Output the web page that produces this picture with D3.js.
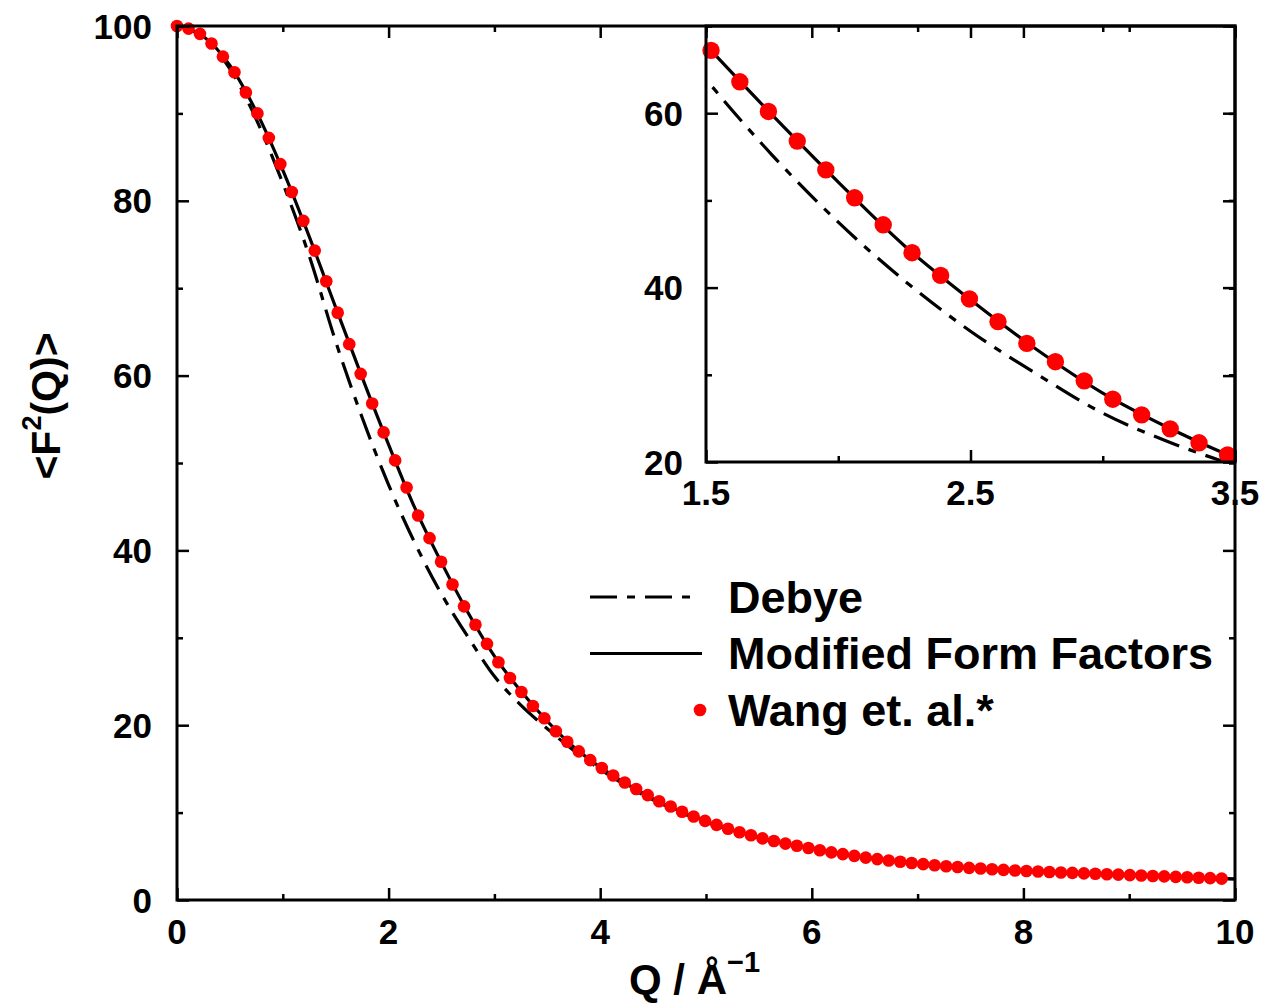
<!DOCTYPE html>
<html>
<head>
<meta charset="utf-8">
<script src="https://cdn.jsdelivr.net/npm/d3@7"></script>
<style>
  body { margin: 0; background: #fff; }
  svg text { font-family: "Liberation Sans", Arial, Helvetica, sans-serif; font-weight: bold; fill: #000; }
</style>
</head>
<body>
<div id="graph"></div>
<script>
// Q grid of the Wang et al. points (1/Angstrom)
var wangQ = [0.000, 0.109, 0.217, 0.326, 0.434, 0.543, 0.651, 0.760, 0.868, 0.977,
             1.085, 1.194, 1.302, 1.411, 1.519, 1.628, 1.736, 1.845, 1.953, 2.062,
             2.170, 2.279, 2.387, 2.496, 2.604, 2.713, 2.821, 2.930, 3.038, 3.147,
             3.255, 3.364, 3.472, 3.581, 3.689, 3.798, 3.906, 4.015, 4.123, 4.232,
             4.340, 4.449, 4.557, 4.666, 4.774, 4.883, 4.991, 5.100, 5.208, 5.317,
             5.425, 5.534, 5.642, 5.751, 5.859, 5.968, 6.076, 6.185, 6.293, 6.402,
             6.510, 6.619, 6.727, 6.836, 6.944, 7.053, 7.161, 7.270, 7.378, 7.487,
             7.595, 7.704, 7.812, 7.921, 8.029, 8.138, 8.246, 8.355, 8.463, 8.572,
             8.680, 8.789, 8.897, 9.006, 9.114, 9.223, 9.331, 9.440, 9.548, 9.657,
             9.765, 9.874];
var wangF2 = [100.0, 99.7, 99.1, 98.0, 96.5, 94.7, 92.4, 90.0, 87.2, 84.2,
              81.0, 77.7, 74.3, 70.8, 67.2, 63.6, 60.2, 56.8, 53.5, 50.3,
              47.2, 44.0, 41.4, 38.7, 36.1, 33.6, 31.5, 29.3, 27.2, 25.4,
              23.8, 22.2, 20.8, 19.3, 18.1, 17.0, 16.0, 15.1, 14.25, 13.45,
              12.7, 12.0, 11.3, 10.7, 10.1, 9.55, 9.05, 8.6, 8.15, 7.75,
              7.4, 7.05, 6.75, 6.45, 6.2, 5.95, 5.7, 5.45, 5.25, 5.05,
              4.85, 4.68, 4.52, 4.37, 4.23, 4.1, 3.98, 3.87, 3.77, 3.68,
              3.6, 3.52, 3.45, 3.38, 3.32, 3.26, 3.2, 3.15, 3.1, 3.05,
              3.0, 2.95, 2.9, 2.85, 2.8, 2.75, 2.7, 2.65, 2.6, 2.55,
              2.5, 2.45];

// Q grid of the two calculated curves
var curveQ = [0, 0.25, 0.5, 0.75, 1.0, 1.25, 1.5, 1.75, 2.0, 2.25, 2.5, 2.75, 3.0, 3.25,
              3.5, 3.75, 4.0, 4.5, 5.0, 5.5, 6.0, 6.5, 7.0, 7.5, 8.0, 8.5, 9.0, 9.5, 10.0];
var modifiedF2 = [100.0, 98.8, 95.5, 90.2, 83.5, 75.9, 67.8, 59.8, 52.1, 44.8, 38.6, 32.9, 27.9, 23.9,
                  20.45, 17.5, 15.2, 11.6, 9.0, 7.15, 5.9, 4.87, 4.17, 3.67, 3.33, 3.08, 2.85, 2.63, 2.4];
var debyeF2 = [100.0, 98.7, 95.1, 89.3, 82.0, 73.7, 63.9, 55.2, 47.5, 40.8, 35.0, 30.1, 25.6, 22.3,
               19.6, 17.1, 14.95, 11.45, 8.9, 7.15, 5.9, 4.87, 4.17, 3.67, 3.33, 3.08, 2.85, 2.63, 2.4];

// Axis ticks
var mainXMajor = [0, 2, 4, 6, 8, 10];
var mainXMinor = [1, 3, 5, 7, 9];
var mainYMajor = [0, 20, 40, 60, 80, 100];
var mainYMinor = [10, 30, 50, 70, 90];
var insetXMajor = [1.5, 2.5, 3.5];
var insetXMinor = [2.0, 3.0];
var insetYMajor = [20, 40, 60];
var insetYMinor = [30, 50, 70];

var legendNames = ["Debye", "Modified Form Factors", "Wang et. al.*"];

// Canvas Info
var CanvasInfo = { width: 1267, height: 1005, id: "#graph" };

// Plot frames (pixels)
var MainFrame = { left: 177, right: 1235, top: 26, bottom: 900 };
var InsetFrame = { left: 706, right: 1235, top: 26, bottom: 462 };

var svg = d3.select(CanvasInfo.id)
            .append("svg")
            .attr("width", CanvasInfo.width)
            .attr("height", CanvasInfo.height);

var wangData = wangQ.map(function(q, i) { return { x: q, y: wangF2[i] }; });
var modifiedData = curveQ.map(function(q, i) { return { x: q, y: modifiedF2[i] }; });
var debyeData = curveQ.map(function(q, i) { return { x: q, y: debyeF2[i] }; });

var debyeDash = "27,10,8,10";

/**
 * Draw inward ticks on all four sides of a frame
 */
function DrawTicks(g, frame, xScale, yScale, xMajor, xMinor, yMajor, yMinor)
{
    var sets = [
        { axis: d3.axisBottom, scale: xScale, major: xMajor, minor: xMinor, t: "translate(0," + frame.bottom + ")" },
        { axis: d3.axisTop, scale: xScale, major: xMajor, minor: xMinor, t: "translate(0," + frame.top + ")" },
        { axis: d3.axisLeft, scale: yScale, major: yMajor, minor: yMinor, t: "translate(" + frame.left + ",0)" },
        { axis: d3.axisRight, scale: yScale, major: yMajor, minor: yMinor, t: "translate(" + frame.right + ",0)" }
    ];
    sets.forEach(function(s)
    {
        [[s.major, 12], [s.minor, 6]].forEach(function(pair)
        {
            var a = g.append("g")
                     .attr("transform", s.t)
                     .call(s.axis(s.scale).tickValues(pair[0]).tickSize(-pair[1]).tickFormat(""));
            a.select(".domain").remove();
            a.selectAll("line").attr("stroke", "#000").attr("stroke-width", 2.5);
        });
    });
}

// ---------- main plot ----------
var x = d3.scaleLinear().domain([0, 10]).range([MainFrame.left, MainFrame.right]);
var y = d3.scaleLinear().domain([0, 100]).range([MainFrame.bottom, MainFrame.top]);

var main = svg.append("g");

var line = d3.line()
             .x(function(d) { return x(d.x); })
             .y(function(d) { return y(d.y); })
             .curve(d3.curveMonotoneX);

main.append("path").datum(debyeData)
    .attr("fill", "none").attr("stroke", "#000").attr("stroke-width", 3.2)
    .attr("stroke-dasharray", debyeDash).attr("d", line);
main.append("path").datum(modifiedData)
    .attr("fill", "none").attr("stroke", "#000").attr("stroke-width", 3.2)
    .attr("d", line);
main.selectAll("circle.wang").data(wangData).enter()
    .append("circle").attr("class", "wang")
    .attr("cx", function(d) { return x(d.x); })
    .attr("cy", function(d) { return y(d.y); })
    .attr("r", 6.3)
    .attr("fill", "#ff0000");

DrawTicks(main, MainFrame, x, y, mainXMajor, mainXMinor, mainYMajor, mainYMinor);

main.append("rect")
    .attr("x", MainFrame.left).attr("y", MainFrame.top)
    .attr("width", MainFrame.right - MainFrame.left)
    .attr("height", MainFrame.bottom - MainFrame.top)
    .attr("fill", "none").attr("stroke", "#000").attr("stroke-width", 3);

main.selectAll("text.xlab").data(mainXMajor).enter()
    .append("text").attr("class", "xlab")
    .attr("x", function(d) { return x(d); })
    .attr("y", MainFrame.bottom + 44)
    .attr("text-anchor", "middle")
    .attr("font-size", 35)
    .text(function(d) { return d; });

main.selectAll("text.ylab").data(mainYMajor).enter()
    .append("text").attr("class", "ylab")
    .attr("x", MainFrame.left - 25)
    .attr("y", function(d) { return y(d) + 12.5; })
    .attr("text-anchor", "end")
    .attr("font-size", 35)
    .text(function(d) { return d; });

// axis titles
var xTitle = svg.append("text")
                .attr("x", 629).attr("y", 994)
                .attr("font-size", 42);
xTitle.append("tspan").text("Q / Å");
xTitle.append("tspan").attr("dy", -22).attr("font-size", 29).text("\u22121");

var yTitle = svg.append("text")
                .attr("transform", "translate(60," + 406 + ") rotate(-90)")
                .attr("text-anchor", "middle")
                .attr("font-size", 41);
yTitle.append("tspan").text("<F");
yTitle.append("tspan").attr("dy", -19).attr("font-size", 27).text("2");
yTitle.append("tspan").attr("dy", 19).text("(Q)>");

// legend
var legend = svg.append("g").attr("transform", "translate(590,597)");
var legendRowGap = 56.5;
legendNames.forEach(function(name, i)
{
    var row = legend.append("g").attr("transform", "translate(0," + i * legendRowGap + ")");
    if (i === 0)
    {
        row.append("line").attr("x1", 0).attr("x2", 108).attr("y1", 0).attr("y2", 0)
           .attr("stroke", "#000").attr("stroke-width", 3.2).attr("stroke-dasharray", debyeDash);
    }
    else if (i === 1)
    {
        row.append("line").attr("x1", 0).attr("x2", 112).attr("y1", 0).attr("y2", 0)
           .attr("stroke", "#000").attr("stroke-width", 3.2);
    }
    else
    {
        row.append("circle").attr("cx", 110).attr("cy", 0).attr("r", 6.3).attr("fill", "#ff0000");
    }
    row.append("text").attr("x", 138).attr("y", 15.5).attr("font-size", 45).text(name);
});

// ---------- inset ----------
var xi = d3.scaleLinear().domain([1.5, 3.5]).range([InsetFrame.left, InsetFrame.right]);
var yi = d3.scaleLinear().domain([20, 70]).range([InsetFrame.bottom, InsetFrame.top]);

var inset = svg.append("g");
svg.append("clipPath").attr("id", "insetClip")
   .append("rect")
   .attr("x", InsetFrame.left).attr("y", InsetFrame.top)
   .attr("width", InsetFrame.right - InsetFrame.left)
   .attr("height", InsetFrame.bottom - InsetFrame.top);

var insetLine = d3.line()
                  .x(function(d) { return xi(d.x); })
                  .y(function(d) { return yi(d.y); })
                  .curve(d3.curveMonotoneX);

inset.append("path").datum(debyeData)
     .attr("clip-path", "url(#insetClip)")
     .attr("fill", "none").attr("stroke", "#000").attr("stroke-width", 3.2)
     .attr("stroke-dasharray", debyeDash).attr("d", insetLine);
inset.append("path").datum(modifiedData)
     .attr("clip-path", "url(#insetClip)")
     .attr("fill", "none").attr("stroke", "#000").attr("stroke-width", 3.2)
     .attr("d", insetLine);
inset.selectAll("circle").data(wangData.filter(function(d) { return d.x >= 1.45 && d.x <= 3.5; }))
     .enter().append("circle")
     .attr("cx", function(d) { return xi(d.x); })
     .attr("cy", function(d) { return yi(d.y); })
     .attr("r", 8.7)
     .attr("fill", "#ff0000");

DrawTicks(inset, InsetFrame, xi, yi, insetXMajor, insetXMinor, insetYMajor, insetYMinor);

inset.append("rect")
     .attr("x", InsetFrame.left).attr("y", InsetFrame.top)
     .attr("width", InsetFrame.right - InsetFrame.left)
     .attr("height", InsetFrame.bottom - InsetFrame.top)
     .attr("fill", "none").attr("stroke", "#000").attr("stroke-width", 3);

inset.selectAll("text.xlab").data(insetXMajor).enter()
     .append("text").attr("class", "xlab")
     .attr("x", function(d) { return xi(d); })
     .attr("y", InsetFrame.bottom + 43)
     .attr("text-anchor", "middle")
     .attr("font-size", 35)
     .text(function(d) { return d.toFixed(1); });

inset.selectAll("text.ylab").data(insetYMajor).enter()
     .append("text").attr("class", "ylab")
     .attr("x", InsetFrame.left - 23)
     .attr("y", function(d) { return yi(d) + 12.5; })
     .attr("text-anchor", "end")
     .attr("font-size", 35)
     .text(function(d) { return d; });
</script>
</body>
</html>
